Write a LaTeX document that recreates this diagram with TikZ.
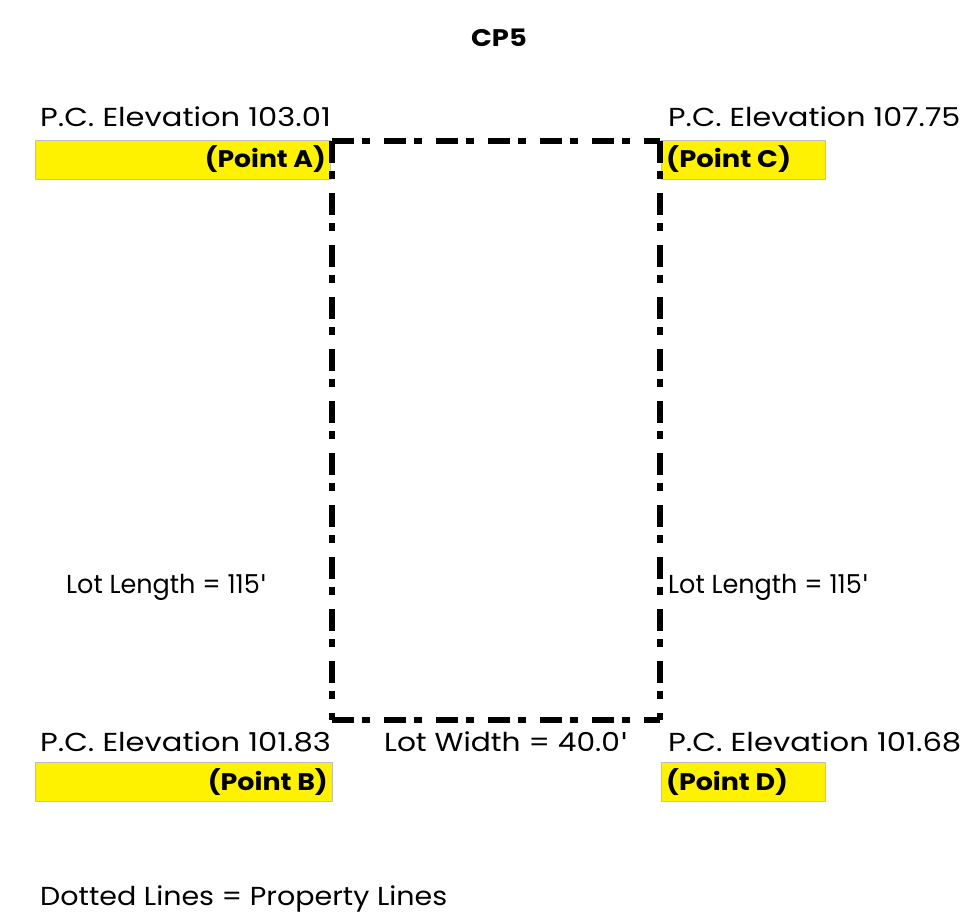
\documentclass[tikz,border=0pt]{standalone}
\usepackage{graphicx}
\usepackage{fontspec}
\setmainfont{Poppins}
\newfontfamily\quotefont{DejaVu Sans}
\newcommand\hsq[2]{\scalebox{#1}[1]{#2}}
\newcommand\apos{{\quotefont\char"0027\relax}}
\begin{document}
\begin{tikzpicture}[x=1pt,y=-1pt,
  lbl/.style={inner sep=0pt, font=\fontsize{26}{30}\selectfont},
  pt/.style={inner sep=0pt, font=\fontsize{24}{30}\selectfont\bfseries},
  ybox/.style={fill=yellow, draw=black!25, line width=0.6pt, inner sep=0pt, anchor=north west},
  prop/.style={line width=5.5pt, dash pattern=on 22pt off 8pt on 8pt off 14pt}]
\useasboundingbox (0,0) rectangle (970,923);
% yellow boxes
\node[ybox, minimum width=295pt, minimum height=39pt] (ya) at (35,140) {};
\node[ybox, minimum width=297pt, minimum height=39pt] (yb) at (35,762) {};
\node[ybox, minimum width=164pt, minimum height=39pt] (yc) at (661,140) {};
\node[ybox, minimum width=164pt, minimum height=39pt] (yd) at (661,762) {};
% property rectangle
\coordinate (tl) at (332,141);
\coordinate (tr) at (660,141);
\coordinate (br) at (660,720);
\coordinate (bl) at (332,720);
\draw[prop] (tl) -- (tr);
\draw[prop] (tr) -- (br);
\draw[prop] (bl) -- (br);
\draw[prop] (tl) -- (bl);
% texts
\node[pt, anchor=base] (title) at (499,47) {\hsq{1.14}{CP5}};
\node[lbl, anchor=base west] (ea) at (40,127) {\hsq{1.176}{P.C. Elevation 103.01}};
\node[lbl, anchor=base west] (ec) at (668,127) {\hsq{1.16}{P.C. Elevation 107.75}};
\node[pt, anchor=base east] (pa) at (326,168) {\hsq{1.11}{(Point A)}};
\node[pt, anchor=base west] (pc) at (666,168) {\hsq{1.14}{(Point C)}};
\node[lbl, anchor=base west] (ll) at (66,593) {\hsq{0.98}{Lot Length = 115\apos}};
\node[lbl, anchor=base west] (lr) at (668,593) {\hsq{0.98}{Lot Length = 115\apos}};
\node[lbl, anchor=base west] (eb) at (40,751) {\hsq{1.176}{P.C. Elevation 101.83}};
\node[lbl, anchor=base west] (lw) at (384,751) {\hsq{1.14}{Lot Width = 40.0\apos}};
\node[lbl, anchor=base west] (ed) at (668,751) {\hsq{1.18}{P.C. Elevation 101.68}};
\node[pt, anchor=base east] (pb) at (328,790) {\hsq{1.12}{(Point B)}};
\node[pt, anchor=base west] (pd) at (666,790) {\hsq{1.12}{(Point D)}};
\node[lbl, anchor=base west] (note) at (40,905) {\hsq{1.097}{Dotted Lines = Property Lines}};
\end{tikzpicture}
\end{document}
